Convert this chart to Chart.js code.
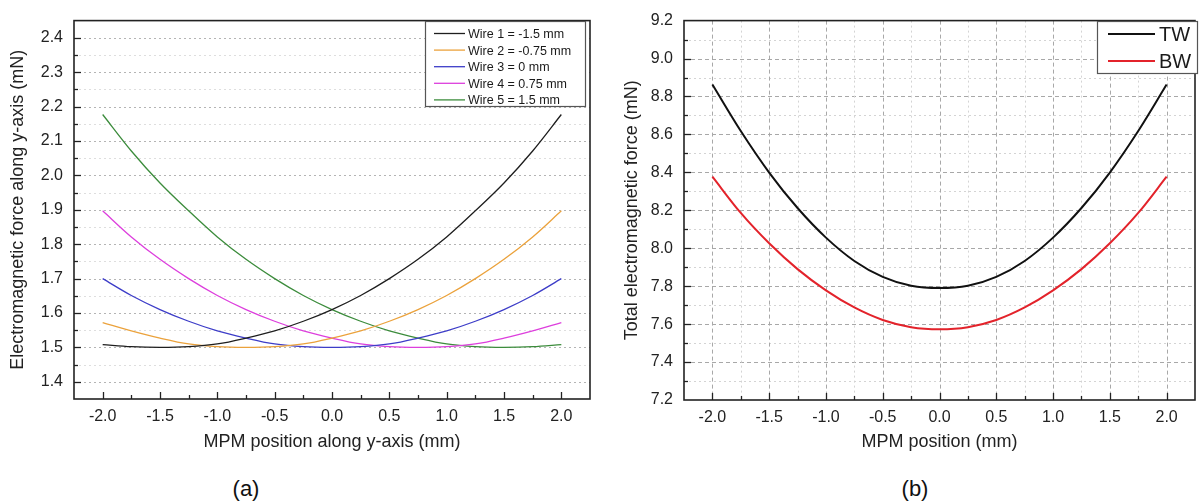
<!DOCTYPE html>
<html lang="en">
<head>
<meta charset="UTF-8">
<title>Electromagnetic force vs MPM position</title>
<script src="https://cdn.jsdelivr.net/npm/chart.js"></script>
<style>
  body { margin: 0; background: #fff; font-family: "Liberation Sans", Arial, sans-serif; }
  #wrap { position: relative; width: 1203px; height: 503px; overflow: hidden; }
  .box { position: absolute; top: 0; height: 460px; }
  #boxA { left: 0; width: 600px; }
  #boxB { left: 600px; width: 603px; }
  .cap { position: absolute; top: 476px; font-size: 22px; color: #111; transform: translateX(-50%); }
</style>
</head>
<body>
<div id="wrap">
  <div class="box" id="boxA"><canvas id="chartA"></canvas></div>
  <div class="box" id="boxB"><canvas id="chartB"></canvas></div>
  <div class="cap" style="left:246px">(a)</div>
  <div class="cap" style="left:915px">(b)</div>
</div>
<script>
// MPM positions (mm)
const positions = [-2, -1.75, -1.5, -1.25, -1, -0.75, -0.5, -0.25, 0, 0.25, 0.5, 0.75, 1, 1.25, 1.5, 1.75, 2];

// (a) force along y-axis per wire (mN)
const wireLabels = ['Wire 1 = -1.5 mm', 'Wire 2 = -0.75 mm', 'Wire 3 = 0 mm', 'Wire 4 = 0.75 mm', 'Wire 5 = 1.5 mm'];
const wire1 = [1.508, 1.502, 1.500, 1.502, 1.510, 1.527, 1.548, 1.576, 1.610, 1.651, 1.700, 1.756, 1.821, 1.897, 1.978, 2.071, 2.177];
const wire2 = [1.572, 1.548, 1.527, 1.510, 1.502, 1.500, 1.502, 1.510, 1.527, 1.548, 1.576, 1.610, 1.651, 1.700, 1.756, 1.821, 1.897];
const wire3 = [1.700, 1.651, 1.610, 1.576, 1.548, 1.527, 1.510, 1.502, 1.500, 1.502, 1.510, 1.527, 1.548, 1.576, 1.610, 1.651, 1.700];
const wire4 = [1.897, 1.821, 1.756, 1.700, 1.651, 1.610, 1.576, 1.548, 1.527, 1.510, 1.502, 1.500, 1.502, 1.510, 1.527, 1.548, 1.572];
const wire5 = [2.177, 2.071, 1.978, 1.897, 1.821, 1.756, 1.700, 1.651, 1.610, 1.576, 1.548, 1.527, 1.510, 1.502, 1.500, 1.502, 1.508];
const wireColors = ['#1e1e1e', '#eba23c', '#3d3dc8', '#dd3fdd', '#3c8c3c'];

// (b) total force (mN)
const totalLabels = ['TW', 'BW'];
const twForce = [8.863, 8.618, 8.399, 8.212, 8.056, 7.933, 7.849, 7.802, 7.790, 7.802, 7.849, 7.933, 8.056, 8.212, 8.399, 8.618, 8.863];
const bwForce = [8.377, 8.186, 8.026, 7.890, 7.778, 7.688, 7.622, 7.584, 7.573, 7.584, 7.622, 7.688, 7.778, 7.890, 8.026, 8.186, 8.377];
const totalColors = ['#111111', '#e3232b'];

const FONT = '"Liberation Sans", Arial, sans-serif';
const isMult = (v, m) => Math.abs(v / m - Math.round(v / m)) < 1e-6;
const toPoints = ys => ys.map((y, i) => ({ x: positions[i], y: y }));

// grid lines, inward ticks, frame and an inside legend
const frameTicks = {
  id: 'frameTicks',
  beforeDatasetsDraw(chart, args, o) {
    const { ctx, chartArea: a, scales: { x, y } } = chart;
    ctx.save();
    ctx.lineWidth = 1;
    if (o.hGrid) {
      y.ticks.forEach(t => {
        if (t.value <= y.min + 1e-9 || t.value >= y.max - 1e-9) return;
        const major = isMult(t.value, o.yGridMajor);
        const py = Math.round(y.getPixelForValue(t.value)) + 0.5;
        ctx.strokeStyle = major ? o.gridMajor : o.gridMinor;
        ctx.setLineDash(major ? o.dashMajor : o.dashMinor);
        ctx.beginPath(); ctx.moveTo(a.left, py); ctx.lineTo(a.right, py); ctx.stroke();
      });
    }
    if (o.vGrid) {
      x.ticks.forEach(t => {
        if (t.value <= x.min + 1e-9 || t.value >= x.max - 1e-9) return;
        const major = isMult(t.value, 0.5);
        const px = Math.round(x.getPixelForValue(t.value)) + 0.5;
        ctx.strokeStyle = major ? o.gridMajor : o.gridMinor;
        ctx.setLineDash(major ? o.dashMajor : o.dashMinor);
        ctx.beginPath(); ctx.moveTo(px, a.top); ctx.lineTo(px, a.bottom); ctx.stroke();
      });
    }
    ctx.restore();
  },
  afterDatasetsDraw(chart, args, o) {
    const { ctx, chartArea: a, scales: { x, y } } = chart;
    ctx.save();
    ctx.setLineDash([]);
    ctx.strokeStyle = '#222';
    ctx.lineWidth = 1.3;
    y.ticks.forEach(t => {
      if (t.value <= y.min + 1e-9 || t.value >= y.max - 1e-9) return;
      const len = isMult(t.value, o.yTickMajor) ? 7 : 4;
      const py = Math.round(y.getPixelForValue(t.value)) + 0.5;
      ctx.beginPath(); ctx.moveTo(a.left, py); ctx.lineTo(a.left + len, py); ctx.stroke();
    });
    x.ticks.forEach(t => {
      if (t.value <= x.min + 1e-9 || t.value >= x.max - 1e-9) return;
      const len = isMult(t.value, 0.5) ? 7 : 4;
      const px = Math.round(x.getPixelForValue(t.value)) + 0.5;
      ctx.beginPath(); ctx.moveTo(px, a.bottom); ctx.lineTo(px, a.bottom - len); ctx.stroke();
    });
    ctx.lineWidth = 1.6;
    ctx.strokeRect(a.left, a.top, a.right - a.left, a.bottom - a.top);

    // legend
    const L = o.legend;
    ctx.fillStyle = '#fff';
    ctx.fillRect(L.x, L.y, L.w, L.h);
    ctx.strokeStyle = '#555';
    ctx.lineWidth = 1.2;
    ctx.strokeRect(L.x + 0.5, L.y + 0.5, L.w, L.h);
    ctx.font = L.font + 'px ' + FONT;
    ctx.textBaseline = 'middle';
    ctx.textAlign = 'left';
    chart.data.datasets.forEach((ds, i) => {
      const cy = L.y + L.first + i * L.step;
      ctx.strokeStyle = ds.borderColor;
      ctx.lineWidth = ds.borderWidth;
      ctx.beginPath(); ctx.moveTo(L.x + L.line0, cy); ctx.lineTo(L.x + L.line1, cy); ctx.stroke();
      ctx.fillStyle = '#1a1a1a';
      ctx.fillText(ds.label, L.x + L.text, cy + 1);
    });
    ctx.restore();
  }
};

function axes(cfg) {
  return {
    x: {
      type: 'linear', min: -2.25, max: 2.25,
      afterFit: s => { s.height = cfg.xHeight; },
      grid: { display: false, drawTicks: false },
      border: { display: false },
      ticks: {
        stepSize: 0.25, autoSkip: false, maxRotation: 0, padding: 8,
        color: '#222', font: { family: FONT, size: 16 },
        callback: v => isMult(v, 0.5) ? v.toFixed(1) : ''
      },
      title: { display: true, text: cfg.xTitle, color: '#222', font: { family: FONT, size: 18 }, padding: { top: 0, bottom: 7 } }
    },
    y: {
      type: 'linear', min: cfg.yMin, max: cfg.yMax,
      afterFit: s => { s.width = cfg.yWidth; },
      grid: { display: false, drawTicks: false },
      border: { display: false },
      ticks: {
        stepSize: cfg.yStep, autoSkip: false, padding: cfg.yPad,
        color: '#222', font: { family: FONT, size: 16 },
        callback: v => isMult(v, cfg.yLabelStep) ? v.toFixed(1) : ''
      },
      title: { display: true, text: cfg.yTitle, color: '#222', font: { family: FONT, size: 18 }, padding: { top: cfg.yTitlePad, bottom: 0 } }
    }
  };
}

const wireSeries = [wire1, wire2, wire3, wire4, wire5];
new Chart(document.getElementById('chartA'), {
  type: 'line',
  data: {
    datasets: wireSeries.map((s, i) => ({
      label: wireLabels[i], data: toPoints(s),
      borderColor: wireColors[i], borderWidth: 1.3,
      pointRadius: 0, cubicInterpolationMode: 'monotone', fill: false
    }))
  },
  options: {
    responsive: true, maintainAspectRatio: false, animation: false,
    layout: { padding: { left: 0, right: 10, top: 17, bottom: 0 } },
    plugins: {
      legend: { display: false }, tooltip: { enabled: false },
      frameTicks: {
        hGrid: true, vGrid: false, yGridMajor: 0.1, yTickMajor: 0.1,
        gridMajor: '#b4b4b4', gridMinor: '#dedede', dashMajor: [2, 3], dashMinor: [2, 3],
        legend: { x: 425, y: 21, w: 160, h: 85, first: 12.5, step: 16.6, line0: 9, line1: 40, text: 43, font: 12.5 }
      }
    },
    scales: axes({
      xTitle: 'MPM position along y-axis (mm)', yTitle: 'Electromagnetic force along y-axis (mN)',
      yMin: 1.35, yMax: 2.45, yStep: 0.05, yLabelStep: 0.1,
      xHeight: 61, yWidth: 74, yPad: 11, yTitlePad: 7
    })
  },
  plugins: [frameTicks]
});

const totalSeries = [twForce, bwForce];
new Chart(document.getElementById('chartB'), {
  type: 'line',
  data: {
    datasets: totalSeries.map((s, i) => ({
      label: totalLabels[i], data: toPoints(s),
      borderColor: totalColors[i], borderWidth: 2,
      pointRadius: 0, cubicInterpolationMode: 'monotone', fill: false
    }))
  },
  options: {
    responsive: true, maintainAspectRatio: false, animation: false,
    layout: { padding: { left: 0, right: 3, top: 16, bottom: 0 } },
    plugins: {
      legend: { display: false }, tooltip: { enabled: false },
      frameTicks: {
        hGrid: true, vGrid: true, yGridMajor: 0.2, yTickMajor: 0.2,
        gridMajor: '#a8a8a8', gridMinor: '#d4d4d4', dashMajor: [4, 3], dashMinor: [2, 3],
        legend: { x: 497, y: 21, w: 100, h: 52, first: 13, step: 27, line0: 11, line1: 58, text: 62, font: 20 }
      }
    },
    scales: axes({
      xTitle: 'MPM position (mm)', yTitle: 'Total electromagnetic force (mN)',
      yMin: 7.2, yMax: 9.2, yStep: 0.1, yLabelStep: 0.2,
      xHeight: 60, yWidth: 84, yPad: 11, yTitlePad: 21
    })
  },
  plugins: [frameTicks]
});
</script>
</body>
</html>
